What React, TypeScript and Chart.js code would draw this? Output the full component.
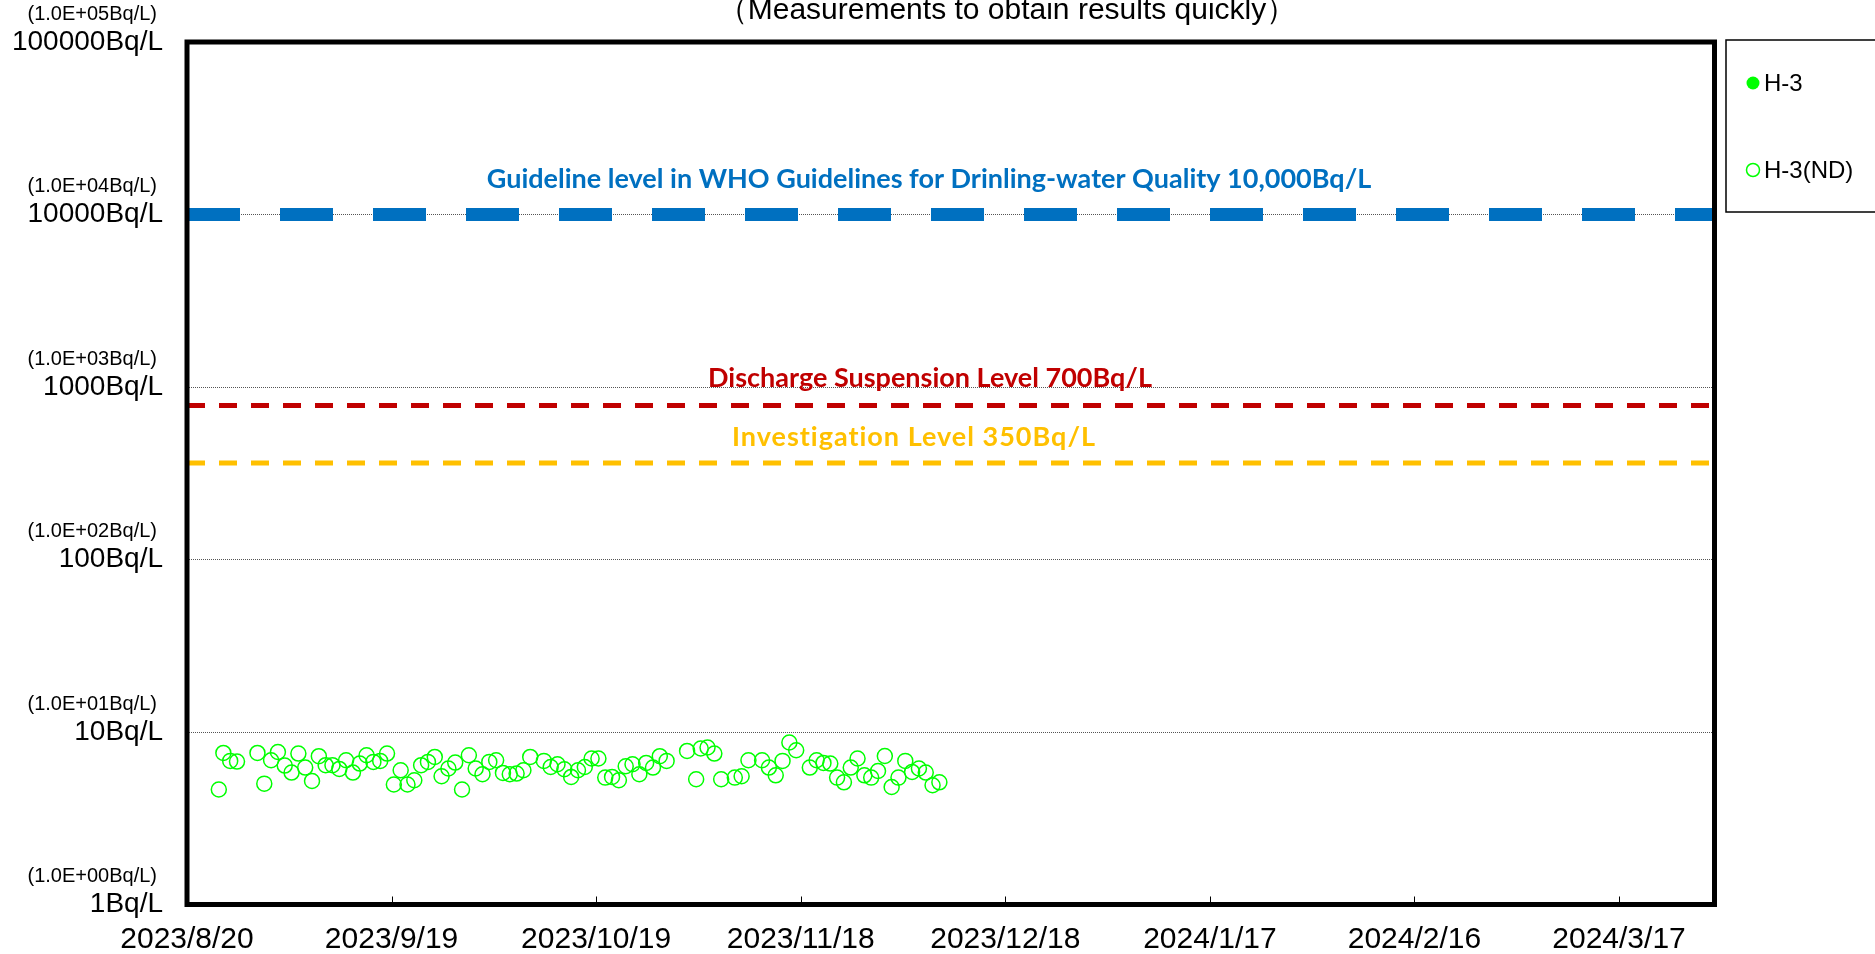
import { useEffect, useRef } from 'react';
import { Chart, registerables } from 'chart.js';

Chart.register(...registerables);

// ---------- data ----------
const TITLE = '（Measurements to obtain results quickly）';
const SERIES_LABELS = ['H-3', 'H-3(ND)'];

// detected values (none in this period)
const H3_DATES: string[] = [];
const H3_VALUES: number[] = [];

// not-detected values (plotted at detection limit)
const ND_DATES = [
  '2023-08-24T16:00', '2023-08-25T08:00', '2023-08-26T08:00', '2023-08-27T08:00', '2023-08-30T08:00',
  '2023-08-31T08:00', '2023-09-01T08:00', '2023-09-02T08:00', '2023-09-03T08:00', '2023-09-04T08:00',
  '2023-09-05T08:00', '2023-09-06T08:00', '2023-09-07T08:00', '2023-09-08T08:00', '2023-09-09T08:00',
  '2023-09-10T08:00', '2023-09-11T08:00', '2023-09-12T08:00', '2023-09-13T08:00', '2023-09-14T08:00',
  '2023-09-15T08:00', '2023-09-16T08:00', '2023-09-17T08:00', '2023-09-18T08:00', '2023-09-19T08:00',
  '2023-09-20T08:00', '2023-09-21T08:00', '2023-09-22T08:00', '2023-09-23T08:00', '2023-09-24T08:00',
  '2023-09-25T08:00', '2023-09-26T08:00', '2023-09-27T08:00', '2023-09-28T08:00', '2023-09-29T08:00',
  '2023-09-30T08:00', '2023-10-01T08:00', '2023-10-02T08:00', '2023-10-03T08:00', '2023-10-04T08:00',
  '2023-10-05T08:00', '2023-10-06T08:00', '2023-10-07T08:00', '2023-10-08T08:00', '2023-10-09T08:00',
  '2023-10-11T08:00', '2023-10-12T08:00', '2023-10-13T08:00', '2023-10-14T08:00', '2023-10-15T08:00',
  '2023-10-16T08:00', '2023-10-17T08:00', '2023-10-18T08:00', '2023-10-19T08:00', '2023-10-20T08:00',
  '2023-10-21T08:00', '2023-10-22T08:00', '2023-10-23T08:00', '2023-10-24T08:00', '2023-10-25T08:00',
  '2023-10-26T08:00', '2023-10-27T08:00', '2023-10-28T08:00', '2023-10-29T08:00', '2023-11-01T08:00',
  '2023-11-02T16:00', '2023-11-03T08:00', '2023-11-04T08:00', '2023-11-05T08:00', '2023-11-06T08:00',
  '2023-11-08T08:00', '2023-11-09T08:00', '2023-11-10T08:00', '2023-11-12T08:00', '2023-11-13T08:00',
  '2023-11-14T08:00', '2023-11-15T08:00', '2023-11-16T08:00', '2023-11-17T08:00', '2023-11-19T08:00',
  '2023-11-20T08:00', '2023-11-21T08:00', '2023-11-22T08:00', '2023-11-23T08:00', '2023-11-24T08:00',
  '2023-11-25T08:00', '2023-11-26T08:00', '2023-11-27T08:00', '2023-11-28T08:00', '2023-11-29T08:00',
  '2023-11-30T08:00', '2023-12-01T08:00', '2023-12-02T08:00', '2023-12-03T08:00', '2023-12-04T08:00',
  '2023-12-05T08:00', '2023-12-06T08:00', '2023-12-07T08:00', '2023-12-08T08:00',
];
const ND_VALUES = [
  4.64, 7.56, 6.8, 6.74, 7.56,
  5.02, 6.86, 7.66, 6.39, 5.82,
  7.5, 6.22, 5.2, 7.24, 6.42,
  6.42, 6.11, 6.86, 5.82, 6.56,
  7.33, 6.71, 6.8, 7.5, 4.96,
  6.0, 4.96, 5.25, 6.42, 6.71,
  7.17, 5.54, 6.14, 6.65, 4.64,
  7.33, 6.14, 5.69, 6.71, 6.86,
  5.79, 5.69, 5.74, 6.0, 7.17,
  6.8, 6.27, 6.5, 6.08, 5.49,
  6.0, 6.27, 7.02, 7.02, 5.44,
  5.49, 5.25, 6.33, 6.5, 5.69,
  6.62, 6.22, 7.24, 6.8, 7.77,
  5.32, 8.02, 8.13, 7.5, 5.32,
  5.44, 5.54, 6.86, 6.86, 6.22,
  5.61, 6.8, 8.69, 7.84, 6.22,
  6.86, 6.62, 6.56, 5.44, 5.11,
  6.22, 7.02, 5.61, 5.44, 5.94,
  7.26, 4.8, 5.44, 6.8, 5.87,
  6.14, 5.82, 4.91, 5.11,
];

const X_MIN_DATE = '2023-08-20';
const X_MAX_DATE = '2024-03-31';
const X_TICK_DATES = [
  '2023-08-20', '2023-09-19', '2023-10-19', '2023-11-18',
  '2023-12-18', '2024-01-17', '2024-02-16', '2024-03-17',
];

const Y_TICKS = [1, 10, 100, 1000, 10000, 100000];
const Y_TICK_LABELS = ['1Bq/L', '10Bq/L', '100Bq/L', '1000Bq/L', '10000Bq/L', '100000Bq/L'];
const Y_SUB_LABELS = [
  '(1.0E+00Bq/L)', '(1.0E+01Bq/L)', '(1.0E+02Bq/L)',
  '(1.0E+03Bq/L)', '(1.0E+04Bq/L)', '(1.0E+05Bq/L)',
];

// reference lines (levels where they are drawn in the picture)
const REF_LABELS = [
  'Guideline level in WHO Guidelines for Drinling-water Quality 10,000Bq/L',
  'Discharge Suspension Level 700Bq/L',
  'Investigation Level 350Bq/L',
];
const REF_VALUES = [10000, 780, 362];
const REF_COLORS = ['#0070C0', '#C00000', '#FFC000'];

// ---------- helpers ----------
const toSerial = (s: string) => {
  const [d, t = '00:00'] = s.split('T');
  return Date.parse(`${d}T${t}:00Z`) / 86400000 + 25569;
};
const fmtSerial = (v: number) => {
  const d = new Date((v - 25569) * 86400000);
  return `${d.getUTCFullYear()}/${d.getUTCMonth() + 1}/${d.getUTCDate()}`;
};

const FONT = '"Liberation Sans", Arial, sans-serif';
const LABEL_FONT = 'bold 27px Lato, "Open Sans", sans-serif';
const GREEN = '#00FF00';

// per-reference-line label placement (style only)
const REF_LABEL_STYLE = [
  { cx: 929, dy: -35, width: 13, dash: [53, 40], spacing: '0px' },
  { cx: 930, dy: -27, width: 5, dash: [18, 14], spacing: '0px' },
  { cx: 914, dy: -26, width: 5, dash: [18, 14], spacing: '1px' },
];

const overlayPlugin = {
  id: 'overlay',
  afterDraw(chart: any) {
    const { ctx, chartArea: a, scales } = chart;
    const xs = scales.x;
    const ys = scales.y;
    ctx.save();

    // inward tick marks on the x axis
    ctx.strokeStyle = '#000';
    ctx.lineWidth = 1;
    xs.ticks.forEach((t: any) => {
      const px = Math.round(xs.getPixelForValue(t.value)) + 0.5;
      ctx.beginPath();
      ctx.moveTo(px, a.bottom);
      ctx.lineTo(px, a.bottom - 8);
      ctx.stroke();
    });

    // plot frame
    ctx.lineWidth = 5;
    ctx.strokeStyle = '#000';
    ctx.strokeRect(a.left, a.top, a.right - a.left, a.bottom - a.top);

    // secondary y labels
    ctx.fillStyle = '#000';
    ctx.font = `20px ${FONT}`;
    ctx.textAlign = 'right';
    ctx.textBaseline = 'middle';
    Y_TICKS.forEach((v, i) => {
      ctx.fillText(Y_SUB_LABELS[i], 157, ys.getPixelForValue(v) - 28);
    });

    // title (partly cut off at top)
    ctx.font = `30px ${FONT}`;
    ctx.textAlign = 'center';
    ctx.textBaseline = 'alphabetic';
    ctx.fillText(TITLE, 1007, 19);

    // reference line labels
    ctx.font = LABEL_FONT;
    REF_LABELS.forEach((lbl, i) => {
      ctx.fillStyle = REF_COLORS[i];
      ctx.textBaseline = 'middle';
      if ('letterSpacing' in ctx) (ctx as any).letterSpacing = REF_LABEL_STYLE[i].spacing;
      ctx.fillText(lbl, REF_LABEL_STYLE[i].cx, ys.getPixelForValue(REF_VALUES[i]) + REF_LABEL_STYLE[i].dy);
    });
    if ('letterSpacing' in ctx) (ctx as any).letterSpacing = '0px';

    // legend box
    ctx.lineWidth = 1.5;
    ctx.strokeStyle = '#000';
    ctx.strokeRect(1726, 40, 200, 172);
    const items = [
      { ds: chart.data.datasets[0], y: 83 },
      { ds: chart.data.datasets[1], y: 170 },
    ];
    items.forEach(({ ds, y }) => {
      ctx.beginPath();
      ctx.arc(1753, y, 6.5, 0, Math.PI * 2);
      if (ds.backgroundColor && ds.backgroundColor !== 'rgba(0,0,0,0)') {
        ctx.fillStyle = ds.backgroundColor;
        ctx.fill();
      } else {
        ctx.strokeStyle = ds.borderColor;
        ctx.lineWidth = 1.5;
        ctx.stroke();
      }
      ctx.fillStyle = '#000';
      ctx.font = `24px ${FONT}`;
      ctx.textAlign = 'left';
      ctx.textBaseline = 'middle';
      ctx.fillText(ds.label, 1764, y + 1);
    });

    ctx.restore();
  },
};

export default function App() {
  const ref = useRef<HTMLCanvasElement>(null);

  useEffect(() => {
    const prevMargin = document.body.style.margin;
    document.body.style.margin = '0';
    const xMin = toSerial(X_MIN_DATE);
    const xMax = toSerial(X_MAX_DATE);
    const xTicks = X_TICK_DATES.map(toSerial);

    const refDatasets = REF_VALUES.map((v, i) => ({
      type: 'line' as const,
      label: REF_LABELS[i],
      data: [{ x: xMin, y: v }, { x: xMax, y: v }],
      borderColor: REF_COLORS[i],
      backgroundColor: REF_COLORS[i],
      borderWidth: REF_LABEL_STYLE[i].width,
      borderDash: REF_LABEL_STYLE[i].dash,
      borderCapStyle: 'butt' as const,
      pointRadius: 0,
      showLine: true,
      fill: false,
      order: 2,
    }));

    const chart = new Chart(ref.current!, {
      type: 'scatter',
      data: {
        datasets: [
          {
            label: SERIES_LABELS[0],
            data: H3_DATES.map((d, i) => ({ x: toSerial(d), y: H3_VALUES[i] })),
            backgroundColor: GREEN,
            borderColor: GREEN,
            pointRadius: 7,
            order: 0,
          },
          {
            label: SERIES_LABELS[1],
            data: ND_DATES.map((d, i) => ({ x: toSerial(d), y: ND_VALUES[i] })),
            backgroundColor: 'rgba(0,0,0,0)',
            borderColor: GREEN,
            borderWidth: 1.5,
            pointRadius: 7.5,
            order: 1,
          },
          ...refDatasets,
        ] as any,
      },
      options: {
        animation: false,
        responsive: false,
        events: [],
        layout: { padding: { top: 42, right: 160.5, left: 0, bottom: 0 } },
        plugins: { legend: { display: false }, tooltip: { enabled: false }, title: { display: false } },
        scales: {
          x: {
            type: 'linear',
            min: xMin,
            max: xMax,
            afterBuildTicks: (s: any) => {
              s.ticks = xTicks.map((value) => ({ value }));
            },
            afterFit: (s: any) => {
              s.height = 49.5;
            },
            grid: { display: false, drawTicks: false },
            border: { display: false },
            ticks: {
              autoSkip: false,
              maxRotation: 0,
              padding: 17,
              color: '#000',
              font: { family: FONT, size: 30 },
              callback: (v: any) => fmtSerial(Number(v)),
            },
          },
          y: {
            type: 'logarithmic',
            min: 1,
            max: 100000,
            afterBuildTicks: (s: any) => {
              s.ticks = Y_TICKS.map((value) => ({ value }));
            },
            afterFit: (s: any) => {
              s.width = 187;
            },
            grid: { color: '#555', lineWidth: 1, drawTicks: false },
            border: { display: false, dash: [1, 1] },
            ticks: {
              autoSkip: false,
              padding: 24,
              color: '#000',
              font: { family: FONT, size: 28 },
              callback: (v: any) => {
                const i = Y_TICKS.indexOf(Number(v));
                return i >= 0 ? Y_TICK_LABELS[i] : '';
              },
            },
          },
        },
      },
      plugins: [overlayPlugin],
    });

    return () => {
      chart.destroy();
      document.body.style.margin = prevMargin;
    };
  }, []);

  return (
    <div style={{ position: 'absolute', left: 0, top: 0, width: 1875, height: 954, background: '#fff' }}>
      <canvas ref={ref} width={1875} height={954} style={{ width: 1875, height: 954, display: 'block' }} />
    </div>
  );
}
